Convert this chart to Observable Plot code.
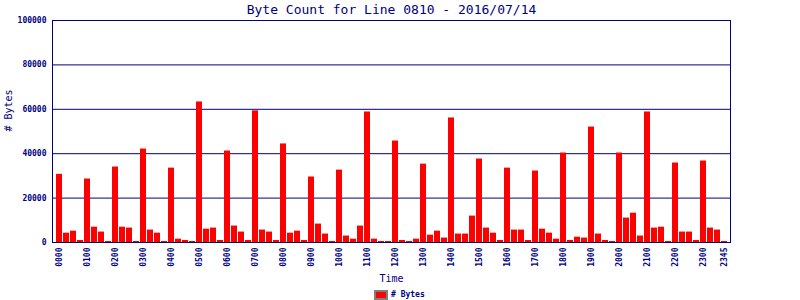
<!DOCTYPE html>
<html>
<head>
<meta charset="utf-8">
<script src="https://cdn.jsdelivr.net/npm/d3@7"></script>
<script src="https://cdn.jsdelivr.net/npm/@observablehq/plot@0.6"></script>
<style>
  html, body { margin: 0; padding: 0; background: #ffffff; }
  #wrap { position: relative; width: 800px; height: 300px; }
  #legend { position: absolute; left: 374px; top: 290px; display: flex; align-items: center;
    font-family: "DejaVu Sans Mono", monospace; font-size: 8px; font-weight: bold; color: #000080; line-height: 8px; }
  #legend .sw { width: 10px; height: 6px; background: #ff0000; border: 2px solid #808080; margin-right: 3px; box-sizing: content-box; }
</style>
</head>
<body>
<div id="wrap"></div>
<script>
const navy = "#000080";
const titleText = "Byte Count for Line 0810 - 2016/07/14";
const yLabel = "# Bytes";
const xLabel = "Time";
const seriesName = "# Bytes";

// 15-minute time slots 0000 .. 2345
const times = d3.range(96).map(i =>
  String(Math.floor(i / 4)).padStart(2, "0") + String((i % 4) * 15).padStart(2, "0"));

const bytes = [
  30700, 4200, 5100, 900,  28600, 6900, 4700, 450,
  34000, 6900, 6500, 450,  42100, 5600, 4200, 450,
  33500, 1500, 900, 450,   63300, 6000, 6500, 900,
  41200, 7400, 4700, 900,  59300, 5600, 4700, 900,
  44400, 4200, 5100, 900,  29500, 8300, 3800, 450,
  32600, 2900, 1500, 7400, 58800, 1500, 450, 450,
  45700, 900, 450, 1500,   35300, 3300, 5100, 2000,
  56100, 3800, 3800, 11900, 37600, 6500, 4200, 900,
  33500, 5600, 5600, 900,  32200, 6000, 4200, 1500,
  40300, 900, 2400, 2000,  52000, 3800, 900, 450,
  40300, 11000, 13200, 2900, 58800, 6500, 6900, 450,
  35800, 4700, 4700, 900,  36700, 6500, 5600, 450
];

const xTickLabels = ["0000","0100","0200","0300","0400","0500","0600","0700","0800","0900",
  "1000","1100","1200","1300","1400","1500","1600","1700","1800","1900","2000","2100",
  "2200","2300","2345"];
const yTicks = [0, 20000, 40000, 60000, 80000, 100000];

const table = times.map((t, i) => ({time: t, bytes: bytes[i]}));

const chart = Plot.plot({
  width: 800,
  height: 300,
  marginLeft: 52,
  marginRight: 70,
  marginTop: 20,
  marginBottom: 58,
  style: {fontFamily: "'DejaVu Sans Mono', monospace", fontSize: "8px", color: navy, background: "#ffffff"},
  x: {type: "band", domain: times, insetLeft: 3.5, insetRight: 2.5, paddingInner: 1 / 7, paddingOuter: 1 / 14, label: null},
  y: {domain: [0, 100000], label: null},
  marks: [
    Plot.gridY(yTicks, {stroke: navy, strokeOpacity: 1, strokeWidth: 1}),
    Plot.barY(table, {x: "time", y: "bytes", fill: "#ff0000"}),
    Plot.frame({stroke: navy, strokeWidth: 1}),
    Plot.axisY({ticks: yTicks, tickSize: 0, tickPadding: 6, tickFormat: d => String(d),
      fill: navy, fontWeight: "bold", label: null}),
    Plot.axisX({ticks: xTickLabels, tickRotate: -90, tickSize: 0, tickPadding: 5,
      fill: navy, fontWeight: "bold", label: null}),
    Plot.text([titleText], {text: d => d, frameAnchor: "top", dy: -7, lineAnchor: "bottom",
      fontSize: 13, fill: navy}),
    Plot.text([yLabel], {text: d => d, frameAnchor: "left", dx: -44, rotate: -90,
      lineAnchor: "middle", fontSize: 10, fill: navy}),
    Plot.text([xLabel], {text: d => d, frameAnchor: "bottom", dy: 36, lineAnchor: "middle",
      fontSize: 10, fill: navy})
  ]
});

const wrap = document.getElementById("wrap");
wrap.appendChild(chart);
const legend = document.createElement("div");
legend.id = "legend";
legend.innerHTML = '<span class="sw"></span><span></span>';
legend.lastChild.textContent = seriesName;
wrap.appendChild(legend);
</script>
</body>
</html>
